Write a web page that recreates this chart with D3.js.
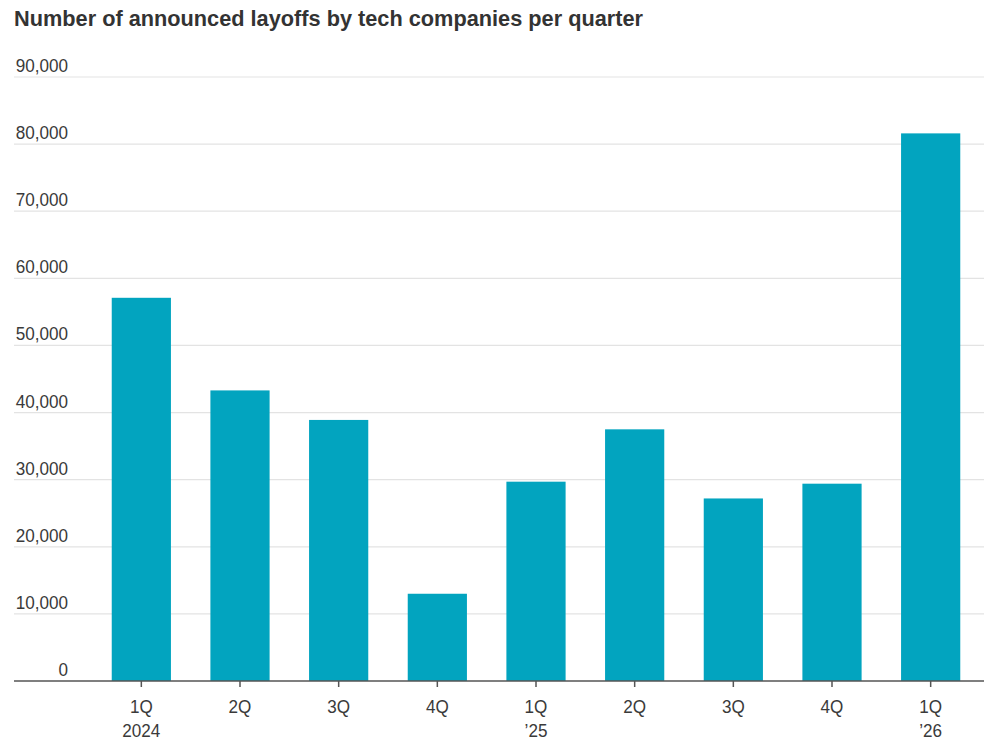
<!DOCTYPE html>
<html>
<head>
<meta charset="utf-8">
<script src="https://cdn.jsdelivr.net/npm/d3@7"></script>
<style>
  body { margin: 0; background: #fff; }
  text { font-family: "Liberation Sans", Arial, sans-serif; }
</style>
</head>
<body>
<div id="chart"></div>
<script>
const quarters = ['1Q 2024', '2Q 2024', '3Q 2024', '4Q 2024', '1Q 2025', '2Q 2025', '3Q 2025', '4Q 2025', '1Q 2026'];
const tickLine1 = ['1Q', '2Q', '3Q', '4Q', '1Q', '2Q', '3Q', '4Q', '1Q'];
const tickLine2 = ['2024', '', '', '', '\u201925', '', '', '', '\u201926'];
const layoffs = [57100, 43300, 38900, 13000, 29700, 37500, 27200, 29400, 81600];
const yTicks = [0, 10000, 20000, 30000, 40000, 50000, 60000, 70000, 80000, 90000];

const width = 984, height = 741;
const squeeze = 0.9; // narrow the font a bit, the original face is condensed

const svg = d3.select('#chart')
  .append('svg')
  .attr('width', width)
  .attr('height', height);

svg.append('text')
  .attr('x', 14)
  .attr('y', 26)
  .attr('font-size', '22px')
  .attr('font-weight', 'bold')
  .attr('fill', '#333')
  .attr('textLength', 629)
  .attr('lengthAdjust', 'spacingAndGlyphs')
  .text('Number of announced layoffs by tech companies per quarter');

const x = d3.scaleBand()
  .domain(quarters)
  .range([92, 980])
  .paddingInner(0.4)
  .paddingOuter(0.2);

const y = d3.scaleLinear()
  .domain([0, 90000])
  .range([681, 77]);

// gridlines + labels
const grid = svg.append('g');
grid.selectAll('line')
  .data(yTicks.slice(1))
  .join('line')
  .attr('x1', 14)
  .attr('x2', width)
  .attr('y1', d => y(d))
  .attr('y2', d => y(d))
  .attr('stroke', '#e3e3e3')
  .attr('stroke-width', 1.2);

grid.selectAll('text')
  .data(yTicks)
  .join('text')
  .attr('transform', d => `translate(68,${y(d) - 5}) scale(${squeeze},1)`)
  .attr('text-anchor', 'end')
  .attr('font-size', '19px')
  .attr('fill', '#3a3a3a')
  .text(d => d3.format(',')(d));

svg.append('g')
  .selectAll('rect')
  .data(layoffs)
  .join('rect')
  .attr('x', (d, i) => x(quarters[i]))
  .attr('width', x.bandwidth())
  .attr('y', d => y(d))
  .attr('height', d => y(0) - y(d))
  .attr('fill', '#02a4bf');

// x axis
const xAxis = svg.append('g');
xAxis.append('line')
  .attr('x1', 14)
  .attr('x2', width)
  .attr('y1', y(0))
  .attr('y2', y(0))
  .attr('stroke', '#555')
  .attr('stroke-width', 1.5);

const ticks = xAxis.selectAll('g.tick')
  .data(quarters)
  .join('g')
  .attr('class', 'tick')
  .attr('transform', d => `translate(${x(d) + x.bandwidth() / 2},${y(0)})`);

ticks.append('line')
  .attr('y1', 0)
  .attr('y2', 6)
  .attr('stroke', '#555')
  .attr('stroke-width', 1.5);

ticks.append('text')
  .attr('transform', `translate(0,32) scale(${squeeze},1)`)
  .attr('text-anchor', 'middle')
  .attr('font-size', '19px')
  .attr('fill', '#3a3a3a')
  .text((d, i) => tickLine1[i]);

ticks.append('text')
  .attr('transform', `translate(0,56) scale(${squeeze},1)`)
  .attr('text-anchor', 'middle')
  .attr('font-size', '19px')
  .attr('fill', '#3a3a3a')
  .text((d, i) => tickLine2[i]);
</script>
</body>
</html>
